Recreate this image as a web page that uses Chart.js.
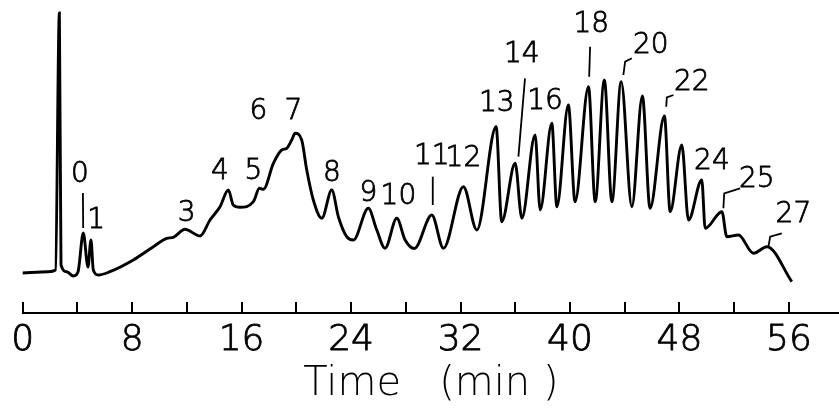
<!DOCTYPE html>
<html>
<head>
<meta charset="utf-8">
<script src="https://cdn.jsdelivr.net/npm/chart.js@4/dist/chart.umd.min.js"></script>
<style>
  html, body { margin: 0; padding: 0; background: #fff; }
  #wrap { width: 839px; height: 411px; }
</style>
</head>
<body>
<div id="wrap"><canvas id="chromChart"></canvas></div>
<script>
// retention time (min) and detector signal
const timeMin = [0, 1.87, 2.40, 2.68, 2.80, 3.22, 3.70, 4.04, 4.43, 4.77, 4.99, 5.16, 5.53, 6.38, 8.08, 9.55,
  10.53, 11.01, 11.86, 12.96, 13.69, 14.42, 15.03, 15.39, 15.88, 16.86, 17.30, 17.59, 18.32, 18.93, 19.30,
  19.66, 19.91, 20.39, 20.76, 21.24, 21.86, 22.59, 23.07, 23.68, 24.17, 25.26, 25.88, 26.48, 27.34, 27.95,
  28.63, 29.90, 30.75, 32.21, 33.19, 34.60, 35.01, 35.99, 36.48, 37.45, 37.82, 38.67, 39.04, 39.88, 40.37,
  41.35, 41.84, 42.51, 43.06, 43.74, 44.52, 45.29, 45.85, 46.90, 47.32, 48.17, 48.66, 49.63, 49.88, 51.10,
  51.46, 52.31, 53.41, 54.39, 56.21];
const signal = [40, 41.3, 43, 300, 48, 41.3, 37, 41, 80, 46, 73, 43, 38, 41.3, 53, 66.3,
  74.7, 75.7, 83.7, 77, 93, 106.3, 123, 108, 105.7, 111.3, 124.7, 123.7, 149.7, 163, 164.7,
  173, 179.7, 173, 143, 113, 94.7, 123, 96.3, 76.3, 73, 104.7, 83, 64.7, 94.7, 73,
  64.5, 98, 64.7, 126.3, 83, 186.3, 91.3, 149.7, 94.7, 178, 103, 189.7, 106.3, 208, 111.3,
  226.3, 111.3, 233, 111.3, 231.3, 106.3, 217, 104.7, 197, 101.3, 168, 93, 133, 84.7, 101.3,
  76.3, 78, 59.7, 66.3, 31.3];

// peak numbers (oligomer index) and where they sit
const peakNames = ['0', '1', '3', '4', '5', '6', '7', '8', '9', '10', '11', '12', '13', '14', '16', '18', '20', '22', '24', '25', '27'];
const peakLabelTime = [4.19, 5.36, 11.99, 14.42, 16.86, 17.22, 19.78, 22.59, 25.26, 27.46, 29.90, 32.21, 34.65, 36.48, 38.18, 41.55, 45.90, 48.90, 50.37, 53.65, 56.33];
const peakLabelSignal = [138, 92, 99.7, 141.3, 141.3, 201.3, 201.3, 139.7, 119.7, 116.3, 156.3, 154.7, 209.7, 258, 211.3, 288, 267, 230.5, 151.3, 133, 98];

// leader lines from a number down to its peak
const leaderLines = [
  [[4.40, 120], [4.42, 85]],
  [[29.97, 136.3], [29.97, 108]],
  [[36.71, 234.7], [36.23, 156.3]],
  [[41.47, 266.3], [41.40, 236.3]],
  [[44.52, 254.7], [44.03, 251.3], [43.90, 238]],
  [[47.56, 218], [47.08, 215.7], [47.03, 206.3]],
  [[52.43, 124.7], [51.27, 119.7], [51.21, 104.7]],
  [[55.48, 79.7], [54.63, 76.3], [54.50, 66.3]]
];

const xTicks = [0, 4, 8, 12, 16, 20, 24, 28, 32, 36, 40, 44, 48, 52, 56];

const FONT = "'DejaVu Sans', sans-serif";

const annotate = {
  id: 'annotate',
  afterDraw(chart) {
    const ctx = chart.ctx;
    const xs = chart.scales.x, ys = chart.scales.y;
    const base = chart.chartArea.bottom;
    ctx.save();
    ctx.strokeStyle = '#000';
    ctx.lineWidth = 2;
    // inward tick marks
    xTicks.forEach(v => {
      const px = Math.round(xs.getPixelForValue(v));
      ctx.beginPath();
      ctx.moveTo(px, base);
      ctx.lineTo(px, base - 11);
      ctx.stroke();
    });
    // leaders
    ctx.lineWidth = 1.8;
    leaderLines.forEach(pts => {
      ctx.beginPath();
      pts.forEach((p, i) => {
        const px = xs.getPixelForValue(p[0]), py = ys.getPixelForValue(p[1]);
        if (i === 0) ctx.moveTo(px, py); else ctx.lineTo(px, py);
      });
      ctx.stroke();
    });
    // peak numbers
    ctx.fillStyle = '#000';
    ctx.font = '300 28px ' + FONT;
    ctx.textAlign = 'center';
    ctx.textBaseline = 'middle';
    ctx.lineWidth = 0.8;
    peakNames.forEach((name, i) => {
      const px = xs.getPixelForValue(peakLabelTime[i]), py = ys.getPixelForValue(peakLabelSignal[i]);
      ctx.fillText(name, px, py);
      ctx.strokeText(name, px, py);
    });
    ctx.restore();
  }
};

new Chart(document.getElementById('chromChart'), {
  type: 'line',
  data: {
    datasets: [{
      data: timeMin.map((t, i) => ({ x: t, y: signal[i] })),
      borderColor: '#000',
      borderWidth: 2.9,
      pointRadius: 0,
      fill: false,
      cubicInterpolationMode: 'monotone',
      clip: false
    }]
  },
  options: {
    responsive: true,
    maintainAspectRatio: false,
    animation: false,
    layout: { padding: { left: 22.7, right: 0, top: 0, bottom: 13 } },
    plugins: { legend: { display: false }, tooltip: { enabled: false } },
    scales: {
      x: {
        type: 'linear',
        min: 0,
        max: 59.66,
        grid: { display: true, drawOnChartArea: false, drawTicks: false },
        border: { display: true, color: '#000', width: 2 },
        ticks: {
          stepSize: 4,
          includeBounds: false,
          autoSkip: false,
          maxRotation: 0,
          padding: 9.5,
          color: '#000',
          textStrokeColor: '#000',
          textStrokeWidth: 0.8,
          font: { family: FONT, size: 36, weight: 300, lineHeight: 1 },
          callback: v => (v % 8 === 0 ? String(v) : '')
        },
        title: {
          display: true,
          text: 'Time   (min )',
          color: '#000',
          font: { family: FONT, size: 40, weight: 300, lineHeight: 0.65 },
          padding: { top: 4, bottom: 0 }
        }
      },
      y: { display: false, min: 0, max: 313 }
    }
  },
  plugins: [annotate]
});
</script>
</body>
</html>
